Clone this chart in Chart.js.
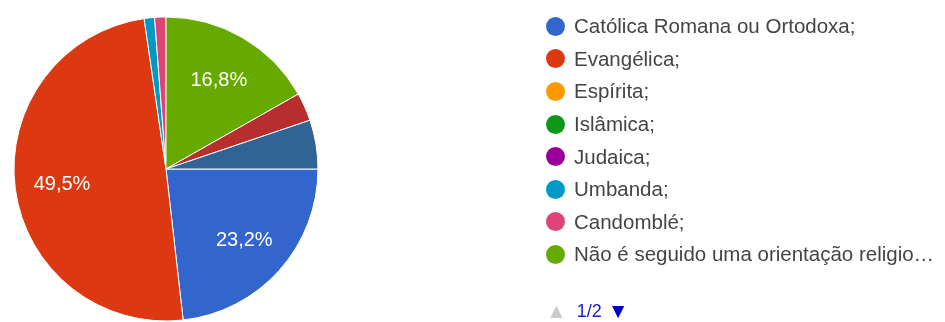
<!DOCTYPE html>
<html>
<head>
<meta charset="utf-8">
<script src="https://cdn.jsdelivr.net/npm/chart.js@4/dist/chart.umd.min.js"></script>
<style>
  html, body { margin: 0; padding: 0; background: #fff; }
  #wrap { position: relative; width: 945px; height: 322px; overflow: hidden; }
  #chart { position: absolute; left: 0; top: 0; }
  #legend {
    position: absolute; left: 546px; top: 10px;
    font-family: "Liberation Sans", Arial, sans-serif; font-size: 20.5px; color: #444;
  }
  .item { height: 32.6px; display: flex; align-items: center; white-space: nowrap; }
  .dot { width: 19px; height: 19px; border-radius: 50%; margin-right: 9px; flex: none; }
  #pager {
    position: absolute; left: 546px; top: 298px; height: 26px;
    display: flex; align-items: center;
    font-family: "Liberation Sans", Arial, sans-serif; font-size: 18px; color: #1a1acc;
  }
  #pager .up { color: #cccccc; font-size: 21px; margin-right: 10px; }
  #pager .down { color: #0000cc; font-size: 21px; margin-left: 6px; }
</style>
</head>
<body>
<div id="wrap">
  <canvas id="chart" width="945" height="322"></canvas>
  <div id="legend"></div>
  <div id="pager"><span class="up">▲</span><span>1/2</span><span class="down">▼</span></div>
</div>
<script>
// 回答カテゴリ（2ページ目の2項目は凡例に表示されない）
const categories = [
  "Católica Romana ou Ortodoxa;",
  "Evangélica;",
  "Espírita;",
  "Islâmica;",
  "Judaica;",
  "Umbanda;",
  "Candomblé;",
  "Não é seguido uma orientação religio…",
  "Outra;",
  "Prefiro não responder;"
];
const percents = [23.2, 49.5, 0, 0, 0, 1.1, 1.2, 16.8, 3.0, 5.2];
const colors = ["#3366cc", "#dc3912", "#ff9900", "#109618", "#990099", "#0099c6", "#dd4477", "#66aa00", "#b82e2e", "#316395"];
const legendCount = 8; // 1/2 ページ目

// スライス上のパーセント表示
const sliceLabels = {
  id: "sliceLabels",
  afterDatasetsDraw(chart) {
    const ctx = chart.ctx;
    const meta = chart.getDatasetMeta(0);
    ctx.save();
    ctx.font = '20px "Liberation Sans", Arial, sans-serif';
    ctx.fillStyle = "#ffffff";
    ctx.textAlign = "center";
    ctx.textBaseline = "middle";
    meta.data.forEach((arc, i) => {
      const v = percents[i];
      if (v < 10) return;
      const p = arc.getProps(["x", "y", "startAngle", "endAngle", "outerRadius"], true);
      const mid = (p.startAngle + p.endAngle) / 2;
      const r = p.outerRadius * 0.69;
      ctx.fillText(v.toFixed(1).replace(".", ",") + "%", p.x + Math.cos(mid) * r, p.y + Math.sin(mid) * r + 2);
    });
    ctx.restore();
  }
};

new Chart(document.getElementById("chart").getContext("2d"), {
  type: "pie",
  data: {
    labels: categories,
    datasets: [{
      data: percents,
      backgroundColor: colors,
      borderColor: "#ffffff",
      borderWidth: 1
    }]
  },
  options: {
    responsive: false,
    animation: false,
    rotation: 90,
    layout: { padding: { left: 13.5, top: 16.5, right: 626.5, bottom: 0.5 } },
    plugins: {
      legend: { display: false },
      tooltip: { enabled: false }
    }
  },
  plugins: [sliceLabels]
});

// 凡例
const legend = document.getElementById("legend");
categories.slice(0, legendCount).forEach((name, i) => {
  const row = document.createElement("div");
  row.className = "item";
  row.innerHTML = `<span class="dot" style="background:${colors[i]}"></span><span>${name}</span>`;
  legend.appendChild(row);
});
</script>
</body>
</html>
